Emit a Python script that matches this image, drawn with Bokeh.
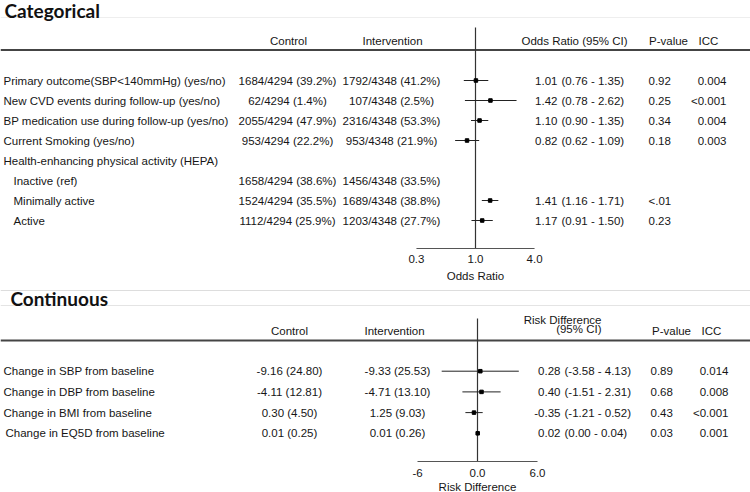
import math
from bokeh.plotting import figure
from bokeh.models import Range1d, LogScale, LinearScale
from bokeh.core.properties import value
from bokeh.embed import file_html
from bokeh.resources import INLINE

# ---------------- data ----------------
cat_labels = ["Primary outcome(SBP<140mmHg) (yes/no)",
              "New CVD events during follow-up (yes/no)",
              "BP medication use during follow-up (yes/no)",
              "Current Smoking (yes/no)",
              "Health-enhancing physical activity (HEPA)",
              "Inactive (ref)",
              "Minimally active",
              "Active"]
cat_indent = [0, 0, 0, 0, 0, 1, 1, 1]
cat_control = ["1684/4294 (39.2%)", "62/4294 (1.4%)", "2055/4294 (47.9%)", "953/4294 (22.2%)",
               "", "1658/4294 (38.6%)", "1524/4294 (35.5%)", "1112/4294 (25.9%)"]
cat_interv = ["1792/4348 (41.2%)", "107/4348 (2.5%)", "2316/4348 (53.3%)", "953/4348 (21.9%)",
              "", "1456/4348 (33.5%)", "1689/4348 (38.8%)", "1203/4348 (27.7%)"]
or_est = [1.01, 1.42, 1.10, 0.82, None, None, 1.41, 1.17]
or_lo = [0.76, 0.78, 0.90, 0.62, None, None, 1.16, 0.91]
or_hi = [1.35, 2.62, 1.35, 1.09, None, None, 1.71, 1.50]
cat_p = ["0.92", "0.25", "0.34", "0.18", "", "", "<.01", "0.23"]
cat_icc = ["0.004", "<0.001", "0.004", "0.003", "", "", "", ""]
or_ticks = [0.25, 1.0, 4.0]
or_tick_labels = ["0.3", "1.0", "4.0"]

cont_labels = ["Change in SBP from baseline", "Change in DBP from baseline",
               "Change in BMI from baseline", "Change in EQ5D from baseline"]
cont_control = ["-9.16 (24.80)", "-4.11 (12.81)", "0.30 (4.50)", "0.01 (0.25)"]
cont_interv = ["-9.33 (25.53)", "-4.71 (13.10)", "1.25 (9.03)", "0.01 (0.26)"]
rd_est = [0.28, 0.40, -0.35, 0.02]
rd_lo = [-3.58, -1.51, -1.21, 0.00]
rd_hi = [4.13, 2.31, 0.52, 0.04]
cont_p = ["0.89", "0.68", "0.43", "0.03"]
cont_icc = ["0.014", "0.008", "<0.001", "0.001"]
rd_ticks = [-6, 0, 6]
rd_tick_labels = ["-6", "0.0", "6.0"]

# ---------------- style ----------------
FONT = "Liberation Sans"
TITLE_FONT = "Lato"
FS = "11.5px"
TXT = "#161616"
OR_X1, OR_PX_LN = 475.0, 42.6
RD_X0, RD_PX = 477.0, 10.0
W, H = 750, 492

p = figure(width=W, height=H, x_range=Range1d(0, W), y_range=Range1d(H, 0),
           output_backend="svg", toolbar_location=None, x_axis_type=None, y_axis_type=None,
           min_border=0)
p.grid.visible = False
p.outline_line_color = None
p.extra_x_ranges = {
    "or": Range1d(math.exp((0 - OR_X1) / OR_PX_LN), math.exp((W - OR_X1) / OR_PX_LN)),
    "rd": Range1d((0 - RD_X0) / RD_PX, (W - RD_X0) / RD_PX),
}
p.extra_x_scales = {"or": LogScale(), "rd": LinearScale()}


def txt(x, y, s, align="left", size=FS, style="normal", font=FONT, rn="default", color=TXT):
    n = len(s)
    xs = x if isinstance(x, list) else [x] * n
    ys = y if isinstance(y, list) else [y] * n
    p.text(x=xs, y=ys, text=s, text_align=align, text_baseline="middle",
           text_font=value(font), text_font_size=size, text_font_style=style,
           text_color=color, x_range_name=rn)


def hline(y, x0=0, x1=W, color="#444444", w=1, rn="default"):
    p.segment(x0=[x0], x1=[x1], y0=[y], y1=[y], line_color=color, line_width=w, x_range_name=rn)


# ================= Categorical =================
hline(17, color="#eeeeee")
txt(4, 10, ["Categorical"], size="19px", style="bold", font=TITLE_FONT, color="#111111")
HY = 40
txt(288, HY, ["Control"], align="center")
txt(392, HY, ["Intervention"], align="center")
txt(574, HY, ["Odds Ratio (95% CI)"], align="center")
txt(668, HY, ["P-value"], align="center")
txt(698, HY, ["ICC"])
hline(49.5, color="#444444", w=2)

CY0, CDY = 80, 20
cy = [CY0 + i * CDY for i in range(len(cat_labels))]
txt([3 if ind == 0 else 13 for ind in cat_indent], cy, cat_labels)
txt(287, cy, cat_control, align="center")
txt(391, cy, cat_interv, align="center")
sel = [i for i in range(len(cy)) if or_est[i] is not None]
txt(557, [cy[i] for i in sel], ["%.2f" % or_est[i] for i in sel], align="right")
txt(561, [cy[i] for i in sel], ["(%.2f - %.2f)" % (or_lo[i], or_hi[i]) for i in sel])
txt(648, cy, cat_p)
txt(726, cy, cat_icc, align="right")

OR_AX_Y = 248
p.segment(x0=[1.0], x1=[1.0], y0=[27], y1=[OR_AX_Y], line_color="#333333", line_width=1.2, x_range_name="or")
p.segment(x0=[or_lo[i] for i in sel], x1=[or_hi[i] for i in sel], y0=[cy[i] for i in sel],
          y1=[cy[i] for i in sel], line_color="#222222", line_width=1, x_range_name="or")
p.scatter(x=[or_est[i] for i in sel], y=[cy[i] for i in sel], marker="square", size=3.5,
          color="#000000", x_range_name="or")
p.segment(x0=[or_ticks[0]], x1=[or_ticks[-1]], y0=[OR_AX_Y], y1=[OR_AX_Y], line_color="#555555",
          line_width=1.2, x_range_name="or")
txt(or_ticks, 258, or_tick_labels, align="center", rn="or")
txt(1.0, 275, ["Odds Ratio"], align="center", rn="or")

# ================= Continuous =================
hline(290, color="#dddddd")
hline(305, color="#e4e4e4")
txt(10, 297.5, ["Continuous"], size="19px", style="bold", font=TITLE_FONT, color="#111111")
H2 = 330
txt(289, H2, ["Control"], align="center")
txt(394, H2, ["Intervention"], align="center")
txt(601, 319.5, ["Risk Difference"], align="right")
txt(601, 328.5, ["(95% CI)"], align="right")
txt(671, H2, ["P-value"], align="center")
txt(701, H2, ["ICC"])
hline(340, color="#444444", w=2)

RY0, RDY = 370.7, 20.7
ry = [RY0 + i * RDY for i in range(len(cont_labels))]
txt([3, 3, 3, 5], ry, cont_labels)
txt(289, ry, cont_control, align="center")
txt(397, ry, cont_interv, align="center")
txt(560, ry, ["%.2f" % v for v in rd_est], align="right")
txt(564, ry, ["(%.2f - %.2f)" % (a, b) for a, b in zip(rd_lo, rd_hi)])
txt(650, ry, cont_p)
txt(728, ry, cont_icc, align="right")

RD_AX_Y = 461
p.segment(x0=[0], x1=[0], y0=[318], y1=[RD_AX_Y], line_color="#333333", line_width=1.2, x_range_name="rd")
p.segment(x0=rd_lo, x1=rd_hi, y0=ry, y1=ry, line_color="#222222", line_width=1, x_range_name="rd")
p.scatter(x=rd_est, y=ry, marker="square", size=3.5, color="#000000", x_range_name="rd")
p.segment(x0=[rd_ticks[0]], x1=[rd_ticks[-1]], y0=[RD_AX_Y], y1=[RD_AX_Y], line_color="#555555",
          line_width=1.2, x_range_name="rd")
txt(rd_ticks, 472, rd_tick_labels, align="center", rn="rd")
txt(0, 486, ["Risk Difference"], align="center", rn="rd")

open("out.html", "w").write(file_html(p, INLINE))
